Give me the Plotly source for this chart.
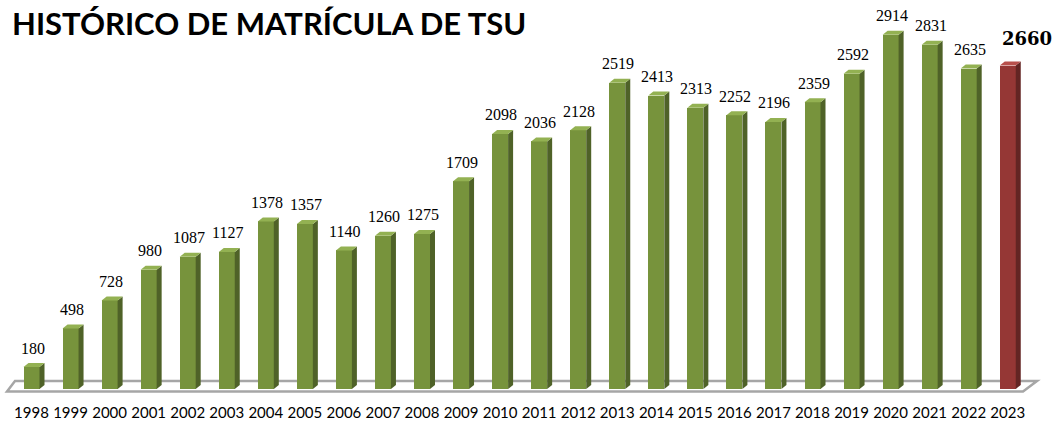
import plotly.graph_objects as go

# ---- data ----
years = ["1998", "1999", "2000", "2001", "2002", "2003", "2004", "2005", "2006",
         "2007", "2008", "2009", "2010", "2011", "2012", "2013", "2014", "2015",
         "2016", "2017", "2018", "2019", "2020", "2021", "2022", "2023"]
enrollment = [180, 498, 728, 980, 1087, 1127, 1378, 1357, 1140, 1260, 1275, 1709,
              2098, 2036, 2128, 2519, 2413, 2313, 2252, 2196, 2359, 2592, 2914,
              2831, 2635, 2660]
title_text = "HISTÓRICO DE MATRÍCULA DE TSU"

# ---- geometry (pixels -> data units) ----
W, H = 1057, 421
B = 25
PLOT_H = H - B
X0_PX, STEP_PX = 31.5, 39.05      # first bar center, spacing
BASE_PX, SCALE = 389.0, 0.1216    # pixel of value 0, px per unit
BAR_W = 16 / STEP_PX
DX = 5 / STEP_PX
DY = 4 / SCALE

x_range = [-X0_PX / STEP_PX, (W - X0_PX) / STEP_PX]
y_range = [-(PLOT_H - BASE_PX) / SCALE, BASE_PX / SCALE]

GREEN = dict(front="#77933C", side="#4F6228", top="#93B152")
RED = dict(front="#953735", side="#632523", top="#B8504C")

n = len(years)
xs = list(range(n))
pal = [RED if i == n - 1 else GREEN for i in range(n)]

fig = go.Figure()

# front faces
fig.add_trace(go.Bar(
    x=xs, y=enrollment, width=BAR_W,
    marker=dict(color=[p["front"] for p in pal], line=dict(width=0)),
    hoverinfo="skip", showlegend=False,
))

# side + top faces
for i, v in enumerate(enrollment):
    xl = i - BAR_W / 2
    xr = i + BAR_W / 2
    fig.add_trace(go.Scatter(
        x=[xr, xr + DX, xr + DX, xr, xr],
        y=[0, DY, v + DY, v, 0],
        fill="toself", fillcolor=pal[i]["side"], mode="lines",
        line=dict(width=0, color=pal[i]["side"]),
        hoverinfo="skip", showlegend=False,
    ))
    fig.add_trace(go.Scatter(
        x=[xl, xr, xr + DX, xl + DX, xl],
        y=[v, v, v + DY, v + DY, v],
        fill="toself", fillcolor=pal[i]["top"], mode="lines",
        line=dict(width=0, color=pal[i]["top"]),
        hoverinfo="skip", showlegend=False,
    ))

# floor outline
fy_front = (BASE_PX - 391.5) / SCALE
fy_back = (BASE_PX - 381.0) / SCALE
fxl_front = (7 - X0_PX) / STEP_PX
fxl_back = (15 - X0_PX) / STEP_PX
fxr_front = (1023 - X0_PX) / STEP_PX
fxr_back = (1037 - X0_PX) / STEP_PX
fig.add_shape(
    type="path",
    path=f"M {fxl_front},{fy_front} L {fxr_front},{fy_front} L {fxr_back},{fy_back} "
         f"L {fxl_back},{fy_back} Z",
    line=dict(color="#A6A6A6", width=2.5), fillcolor="rgba(0,0,0,0)",
    layer="below",
)

# value labels
for i, v in enumerate(enrollment):
    last = i == n - 1
    fig.add_annotation(
        x=i, y=v + DY, text=(f"<b>{v}</b>" if last else str(v)),
        showarrow=False, xanchor="center", yanchor="middle",
        xshift=19 if last else 1, yshift=23 if last else 15,
        font=dict(family="DejaVu Serif" if last else "Liberation Serif",
                  size=18 if last else 16, color="#000000"),
    )

# title
fig.add_annotation(
    xref="paper", yref="paper", x=10 / W, y=1, xanchor="left", yanchor="top",
    text=f"<b>{title_text}</b>", showarrow=False, yshift=-2,
    font=dict(family="Lato", size=31, color="#000000"),
)

fig.update_layout(
    width=W, height=H,
    margin=dict(l=0, r=0, t=0, b=B),
    paper_bgcolor="white", plot_bgcolor="white",
    bargap=0,
    xaxis=dict(range=x_range, tickmode="array", tickvals=xs, ticktext=years,
               showgrid=False, zeroline=False, showline=False, ticks="",
               ticklabelstandoff=6,
               tickfont=dict(family="Lato", size=15, color="#000000"),
               fixedrange=True),
    yaxis=dict(range=y_range, visible=False, showgrid=False, zeroline=False,
               fixedrange=True),
)

fig.write_html("out.html", config={"displayModeBar": False},
               post_script="document.body.style.margin='0px';document.body.style.overflow='hidden';")
